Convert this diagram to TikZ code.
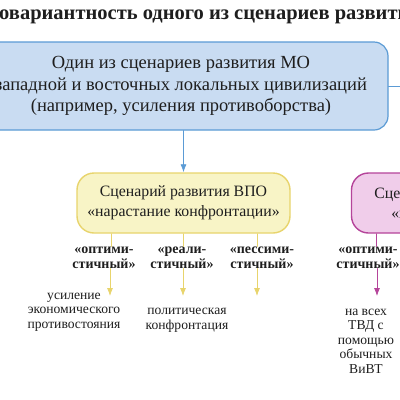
\documentclass[tikz,border=0pt]{standalone}
\usepackage{fontspec}
\setmainfont{Liberation Serif}
\usetikzlibrary{arrows.meta}

\definecolor{mofill}{HTML}{C9DCF2}
\definecolor{moline}{HTML}{5B9BD5}
\definecolor{vpofill}{HTML}{F8F4C6}
\definecolor{vpoline}{HTML}{E8D46C}
\definecolor{globfill}{HTML}{F0CDEA}
\definecolor{globline}{HTML}{B5449A}
\definecolor{ink}{HTML}{1E1E1E}

\begin{document}
\begin{tikzpicture}[
  x=1pt, y=-1pt,
  line cap=round, line join=round,
  every node/.style={text=ink, inner sep=0pt, align=center},
  scenario/.style={draw=moline, fill=mofill, line width=1.2pt, rounded corners=14pt,
    font=\fontsize{18.5}{21.5}\selectfont},
  vpobox/.style={draw=vpoline, fill=vpofill, line width=1.4pt, rounded corners=17pt,
    font=\fontsize{15.8}{19.5}\selectfont},
  globbox/.style={vpobox, draw=globline, fill=globfill},
  variant/.style={font=\bfseries\fontsize{14}{15}\selectfont},
  outcome/.style={font=\fontsize{13.6}{14.5}\selectfont},
  link/.style={line width=0.8pt, -{Latex[length=8pt,width=6pt]}},
  stub/.style={line width=0.8pt},
]
\useasboundingbox (0,0) rectangle (400,400);
\clip (0,0) rectangle (400,400);
\fill[white] (0,0) rectangle (400,400);

% title
\node[anchor=west, font=\bfseries\fontsize{20.5}{22}\selectfont] (title) at (-1,15)
  {\llap{Мног}овариантность одного из сценариев развития МО};

% top scenario
\node[scenario, minimum width=414pt, minimum height=88pt] (mo) at (181,86)
  {Один из сценариев развития МО\\западной и восточных локальных цивилизаций\\(например, усиления противоборства)};
\coordinate (right) at (420,86);
\draw[stub, draw=moline] (mo.east) -- (right);

% scenarios of the military-political situation
\node[vpobox, minimum width=213pt, minimum height=60pt] (vpo) at (183.5,203)
  {Сценарий развития ВПО\\«нарастание конфронтации»};
\node[globbox, minimum width=213pt, minimum height=60pt] (glob) at (458,203)
  {Сценарий развития ВПО\\«глобальная война»};
\draw[link, draw=moline, fill=moline] (mo.south -| vpo.north) -- (vpo.north);

% variants
\node[variant] (opt1) at (104,257.5) {«оптими-\\стичный»};
\node[variant] (real1) at (182,257.5) {«реали-\\стичный»};
\node[variant] (pess1) at (262,257.5) {«пессими-\\стичный»};
\node[variant] (opt2) at (368,257.5) {«оптими-\\стичный»};

\draw[stub, draw=vpoline] (vpo.south -| 111,0) -- (opt1.north -| 111,0);
\draw[stub, draw=vpoline] (vpo.south -| 183,0) -- (real1.north -| 183,0);
\draw[stub, draw=vpoline] (vpo.south -| 257,0) -- (pess1.north -| 257,0);
\draw[stub, draw=globline] (glob.south -| 376,0) -- (opt2.north -| 376,0);

% outcomes
\node[outcome] (econ) at (74,312) {усиление\\экономического\\противостояния};
\node[outcome] (polit) at (187,320) {политическая\\конфронтация};
\node[outcome] (conv) at (366,341) {на всех\\ТВД с\\помощью\\обычных\\ВиВТ};

\coordinate (end1) at (110,296);
\coordinate (end2) at (183,296);
\coordinate (end3) at (257,296);
\coordinate (end4) at (377,296);
\draw[link, draw=vpoline, fill=vpoline] (opt1.south -| end1) -- (end1);
\draw[link, draw=vpoline, fill=vpoline] (real1.south -| end2) -- (end2);
\draw[link, draw=vpoline, fill=vpoline] (pess1.south -| end3) -- (end3);
\draw[link, draw=globline, fill=globline] (opt2.south -| end4) -- (end4);
\end{tikzpicture}
\end{document}
